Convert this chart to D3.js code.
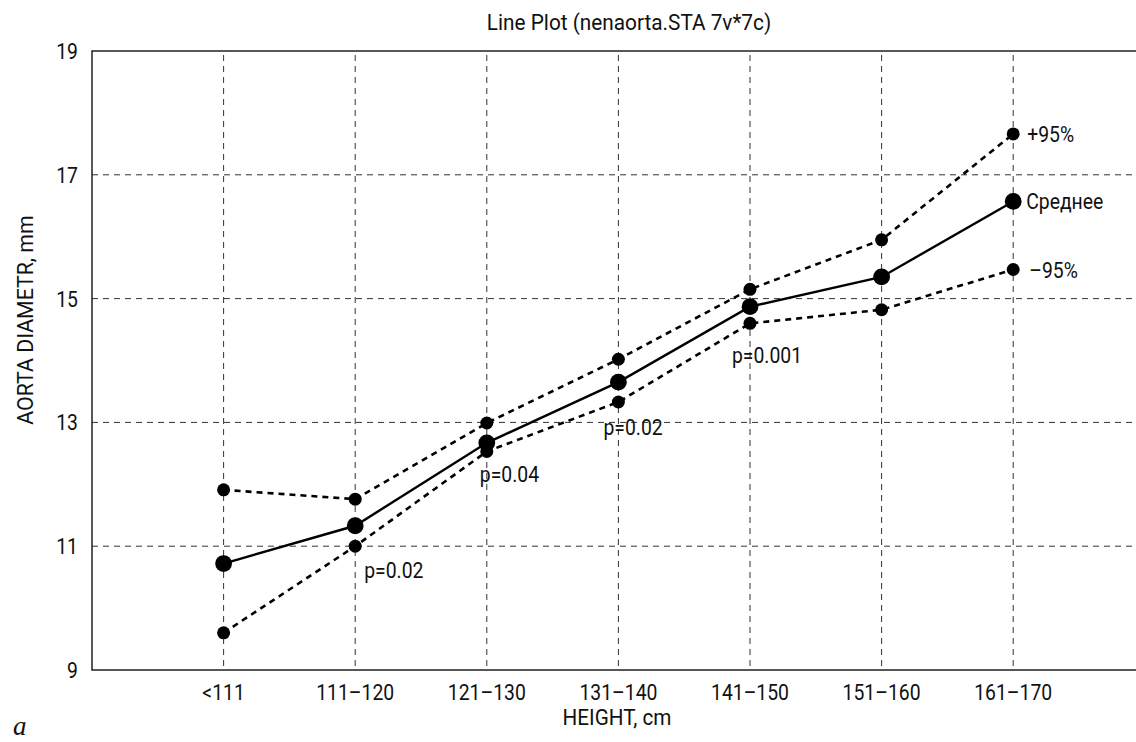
<!DOCTYPE html>
<html>
<head>
<meta charset="utf-8">
<script src="https://cdn.jsdelivr.net/npm/d3@7"></script>
<style>
  body { margin: 0; background: #fff; }
  text { font-family: "Liberation Sans Narrow", "Roboto", sans-serif; fill: #111; }
</style>
</head>
<body>
<div id="chart"></div>
<script>
// data
const categories = ["<111", "111\u2013120", "121\u2013130", "131\u2013140", "141\u2013150", "151\u2013160", "161\u2013170"];
const meanValues  = [10.72, 11.33, 12.67, 13.65, 14.87, 15.35, 16.57];
const upperValues = [11.91, 11.76, 12.99, 14.02, 15.15, 15.95, 17.66];
const lowerValues = [9.60, 11.00, 12.53, 13.33, 14.60, 14.82, 15.47];
const yTicks = [9, 11, 13, 15, 17, 19];
const pCats = ["111\u2013120", "121\u2013130", "131\u2013140", "141\u2013150"];
const pTexts = ["p=0.02", "p=0.04", "p=0.02", "p=0.001"];
// where each note sits relative to its lower-bound point
const pOffsets = [[9, 32], [-7, 31], [-15, 33], [-18, 40]];

const W = 1136, H = 742;
const plotLeft = 92, plotTop = 51, plotBottom = 670;
const step = 131.6;
const FS = 22, SX = 0.88;   // condensed look: wide font squeezed horizontally

const svg = d3.select("#chart").append("svg")
  .attr("width", W)
  .attr("height", H);

const x = d3.scalePoint()
  .domain(categories)
  .range([plotLeft + step, plotLeft + step * categories.length]);

const y = d3.scaleLinear()
  .domain([9, 19])
  .range([plotBottom, plotTop]);

function label(g, tx, ty, str, anchor = "start", rot = 0, sx = SX) {
  return g.append("text")
    .attr("transform", `translate(${tx},${ty}) rotate(${rot}) scale(${sx},1)`)
    .attr("text-anchor", anchor)
    .attr("font-size", FS + "px")
    .text(str);
}

// grid
svg.append("g").selectAll("line")
  .data(yTicks.filter(d => d > 9 && d < 19))
  .join("line")
  .attr("x1", plotLeft).attr("x2", W)
  .attr("y1", d => y(d)).attr("y2", d => y(d))
  .style("stroke", "#333").style("stroke-width", 1)
  .style("stroke-dasharray", "6,5");

svg.append("g").selectAll("line")
  .data(categories)
  .join("line")
  .attr("x1", d => x(d)).attr("x2", d => x(d))
  .attr("y1", plotTop + 4).attr("y2", plotBottom)
  .style("stroke", "#333").style("stroke-width", 1)
  .style("stroke-dasharray", "6,5");

// frame
svg.append("path")
  .attr("d", `M${W},${plotTop}H${plotLeft}V${plotBottom}H${W}`)
  .style("fill", "none").style("stroke", "#222").style("stroke-width", 1.5);

// tick labels
const yl = svg.append("g");
yTicks.forEach(d => label(yl, plotLeft - 14, y(d) + 8, d, "end"));

const xl = svg.append("g");
categories.forEach(d => label(xl, x(d), plotBottom + 30, d, "middle"));

// titles
label(svg, 629, 30, "Line Plot (nenaorta.STA 7v*7c)", "middle", 0, 0.945);
label(svg, 617, 725, "HEIGHT, cm", "middle", 0, 0.94);
label(svg, 33, 320, "AORTA DIAMETR, mm", "middle", -90, 0.97);

svg.append("text")
  .attr("x", 13).attr("y", 735)
  .style("font-family", "'Liberation Serif', serif")
  .attr("font-style", "italic")
  .attr("font-size", "27px")
  .text("a");

// series
const line = d3.line()
  .x((d, i) => x(categories[i]))
  .y(d => y(d));

const series = [
  { values: upperValues, dash: "6,5", width: 2.6, r: 6.5, label: "+95%", dx: 14 },
  { values: lowerValues, dash: "6,5", width: 2.6, r: 6.5, label: "\u201395%", dx: 16 },
  { values: meanValues, dash: null, width: 2.4, r: 8.4, label: "\u0421\u0440\u0435\u0434\u043d\u0435\u0435", dx: 13 }
];

series.forEach(s => {
  svg.append("path")
    .datum(s.values)
    .attr("d", line)
    .style("fill", "none")
    .style("stroke", "#000")
    .style("stroke-width", s.width)
    .style("stroke-dasharray", s.dash);

  svg.append("g").selectAll("circle")
    .data(s.values)
    .join("circle")
    .attr("cx", (d, i) => x(categories[i]))
    .attr("cy", d => y(d))
    .attr("r", s.r)
    .style("fill", "#000");

  const last = s.values.length - 1;
  label(svg, x(categories[last]) + s.dx, y(s.values[last]) + 8, s.label);
});

// p-value notes
const pl = svg.append("g");
pCats.forEach((c, i) => {
  const v = lowerValues[categories.indexOf(c)];
  label(pl, x(c) + pOffsets[i][0], y(v) + pOffsets[i][1], pTexts[i]);
});
</script>
</body>
</html>
